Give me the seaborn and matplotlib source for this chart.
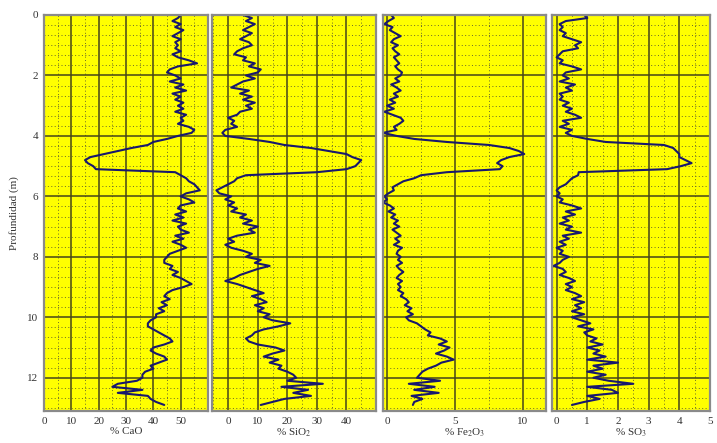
import numpy as np
import pandas as pd
import matplotlib
matplotlib.use("Agg")
import matplotlib.pyplot as plt
from matplotlib.ticker import MultipleLocator, AutoMinorLocator
import seaborn as sns

# depth samples (m), every 0.1 m from 0 to 12.9
depth = np.round(np.arange(0, 130) * 0.1, 1)

cao = [50, 49, 47, 50, 48, 51, 49, 47, 50, 48,
       49, 48, 50, 47, 49, 53, 56, 49, 46, 45,
       48, 50, 46, 51, 48, 52, 47, 50, 48, 51,
       49, 51, 48, 52, 50, 51, 49, 53, 55, 54,
       49, 45, 40, 38, 32, 27, 22, 17, 15, 16,
       18, 19, 48, 50, 52, 53, 55, 56, 57, 52,
       50, 53, 55, 50, 49, 52, 48, 51, 47, 52,
       49, 50, 53, 48, 51, 47, 50, 52, 49, 46,
       45, 44, 44, 47, 46, 49, 47, 50, 52, 54,
       51, 47, 45, 44, 46, 43, 45, 42, 44, 41,
       41, 39, 38, 38, 40, 42, 44, 46, 47, 44,
       40, 39, 41, 44, 45, 42, 39, 40, 37, 36,
       36, 34, 27, 25, 36, 27, 38, 39, 41, 44]

sio2 = [5, 8, 6, 9, 7, 5, 8, 6, 4, 7,
        8, 5, 3, 2, 6, 5, 9, 7, 11, 10,
        6, 9, 5, 3, 1, 7, 4, 8, 5, 9,
        6, 8, 4, 3, 0, 2, 1, 3, -1, -2,
        -1, 7, 14, 19, 28, 34, 40, 42, 45, 44,
        43, 40, 30, 6, 3, 2, 0, -2, -4, -3,
        1, -1, 2, 0, 3, 1, 6, 4, 8, 5,
        10, 7, 9, 3, 0, 2, -1, 1, 5, 8,
        6, 11, 9, 14, 10, 7, 4, 2, -1, 3,
        6, 9, 12, 8, 11, 13, 9, 12, 10, 14,
        12, 15, 21, 17, 12, 9, 8, 6, 7, 10,
        16, 19, 15, 12, 17, 14, 18, 17, 20, 22,
        23, 20, 32, 18, 27, 22, 28, 19, 15, 11]

fe2o3 = [0.3, 0.5, 0.1, -0.2, 0.4, 0.2, 0.6, 1.0, 0.5, 0.3,
         0.8, 0.4, 0.6, 0.9, 0.5, 0.7, 0.9, 0.6, 0.8, 1.1,
         1.0, 0.6, 0.9, 0.3, 0.7, 1.0, 0.5, 0.8, 0.2, 0.6,
         0.0, 0.5, -0.2, 0.4, 1.0, 1.2, 0.9, 0.5, 0.7, -0.3,
         0.7, 2.0, 4.4, 7.5, 9.0, 9.7, 10.1, 9.0, 8.4, 8.1,
         8.5, 8.3, 4.4, 2.5, 2.0, 1.2, 0.8, 0.4, 0.5, 0.1,
         -0.2, 0.0, -0.3, 0.2, 0.5, 0.1, 0.6, 0.3, 0.8, 0.5,
         0.9, 0.4, 0.7, 1.0, 0.6, 0.9, 0.5, 1.1, 0.8, 0.7,
         1.0, 0.8, 1.1, 0.7, 0.9, 1.2, 0.9, 0.7, 1.1, 0.8,
         1.0, 0.8, 1.2, 1.0, 1.4, 1.6, 1.3, 1.8, 1.5, 1.9,
         1.4, 1.6, 2.2, 2.5, 2.8, 3.2, 3.0, 3.9, 4.4, 3.8,
         4.6, 4.2, 3.6, 4.4, 4.9, 4.0, 3.6, 3.0, 2.6, 2.4,
         2.2, 3.9, 1.6, 3.5, 2.0, 3.8, 1.8, 2.6, 2.0, 1.9]

so3 = [0.9, 1.0, 0.3, 0.1, 0.2, 0.1, 0.3, 0.2, 0.5, 0.8,
       0.6, 0.7, 0.2, 0.1, 0.0, 0.2, 0.1, 0.5, 0.8, 0.3,
       0.2, 0.4, 0.1, 0.6, 0.3, 0.5, 0.1, 0.2, 0.1, 0.4,
       0.2, 0.5, 0.3, 0.6, 0.8, 0.2, 0.4, 0.1, 0.5, 0.3,
       0.5, 1.0, 1.6, 3.5, 3.8, 3.9, 4.0, 4.0, 4.2, 4.4,
       4.05, 3.6, 0.72, 0.7, 0.5, 0.4, 0.3, 0.1, 0.0, 0.1,
       0.0, 0.2, 0.1, 0.5, 0.8, 0.3, 0.6, 0.2, 0.4, 0.1,
       0.5, 0.3, 0.8, 0.2, 0.4, 0.1, 0.3, 0.0, 0.2, 0.1,
       0.4, 0.2, 0.1, -0.1, 0.2, 0.3, 0.1, 0.4, 0.6, 0.3,
       0.5, 0.3, 0.6, 0.8, 0.5, 0.9, 0.6, 0.8, 0.5, 0.9,
       0.5, 0.8, 1.1, 0.7, 1.2, 0.9, 1.0, 1.3, 1.1, 1.5,
       1.0, 1.4, 1.2, 1.6, 1.0, 2.0, 1.2, 1.5, 1.0, 1.6,
       1.2, 1.7, 2.5, 1.0, 1.8, 2.0, 1.0, 1.4, 0.9, 0.5]

df = pd.DataFrame({"depth": depth, "CaO": cao, "SiO2": sio2,
                   "Fe2O3": fe2o3, "SO3": so3})

labels = ["% CaO", "% SiO$_2$", "% Fe$_2$O$_3$", "% SO$_3$"]
cols = ["CaO", "SiO2", "Fe2O3", "SO3"]
xticks = [[0, 10, 20, 30, 40, 50], [0, 10, 20, 30, 40], [0, 5, 10], [0, 1, 2, 3, 4, 5]]
xlims = [(0, 60), (-5.5, 50), (-0.3, 11.7), (-0.15, 5.0)]
xminor = [5, 5, 2.5, 0.5]
lefts = [44, 212, 383, 552]
widths = [164, 164, 163, 158]

sns.set_style("white")
plt.rcParams["font.family"] = ["Liberation Serif", "DejaVu Serif"]
plt.rcParams["mathtext.fontset"] = "stix"

W, H = 717, 443
fig = plt.figure(figsize=(W / 100, H / 100), dpi=100)
fig.patch.set_facecolor("white")

for i, col in enumerate(cols):
    ax = fig.add_axes([lefts[i] / W, 32 / H, widths[i] / W, 396 / H])
    ax.set_facecolor("#ffff00")
    sns.lineplot(data=df, x=col, y="depth", orient="y", estimator=None,
                 color="#18186e", lw=1.5, ax=ax)
    ax.set_xlim(*xlims[i])
    ax.set_ylim(13.1, 0)
    ax.set_xticks(xticks[i])
    ax.xaxis.set_minor_locator(MultipleLocator(xminor[i]))
    ax.yaxis.set_major_locator(MultipleLocator(2))
    ax.yaxis.set_minor_locator(AutoMinorLocator(6))
    ax.grid(which="major", color="#45451a", lw=1.1)
    ax.grid(which="minor", color="#6a6a28", lw=0.7, ls=(0, (1, 2.5)))
    ax.set_axisbelow(True)
    for s in ax.spines.values():
        s.set_color("#8a8a8a")
        s.set_linewidth(1.6)
    ax.tick_params(which="both", length=0, labelsize=8, pad=4, colors="#333333")
    ax.set_xlabel(labels[i], fontsize=8, labelpad=1, color="#333333")
    if i == 0:
        ax.set_ylabel("Profundidad (m)", fontsize=8, color="#333333", labelpad=6)
    else:
        ax.set_ylabel("")
        ax.set_yticklabels([])

fig.savefig("out.png", dpi=100)
